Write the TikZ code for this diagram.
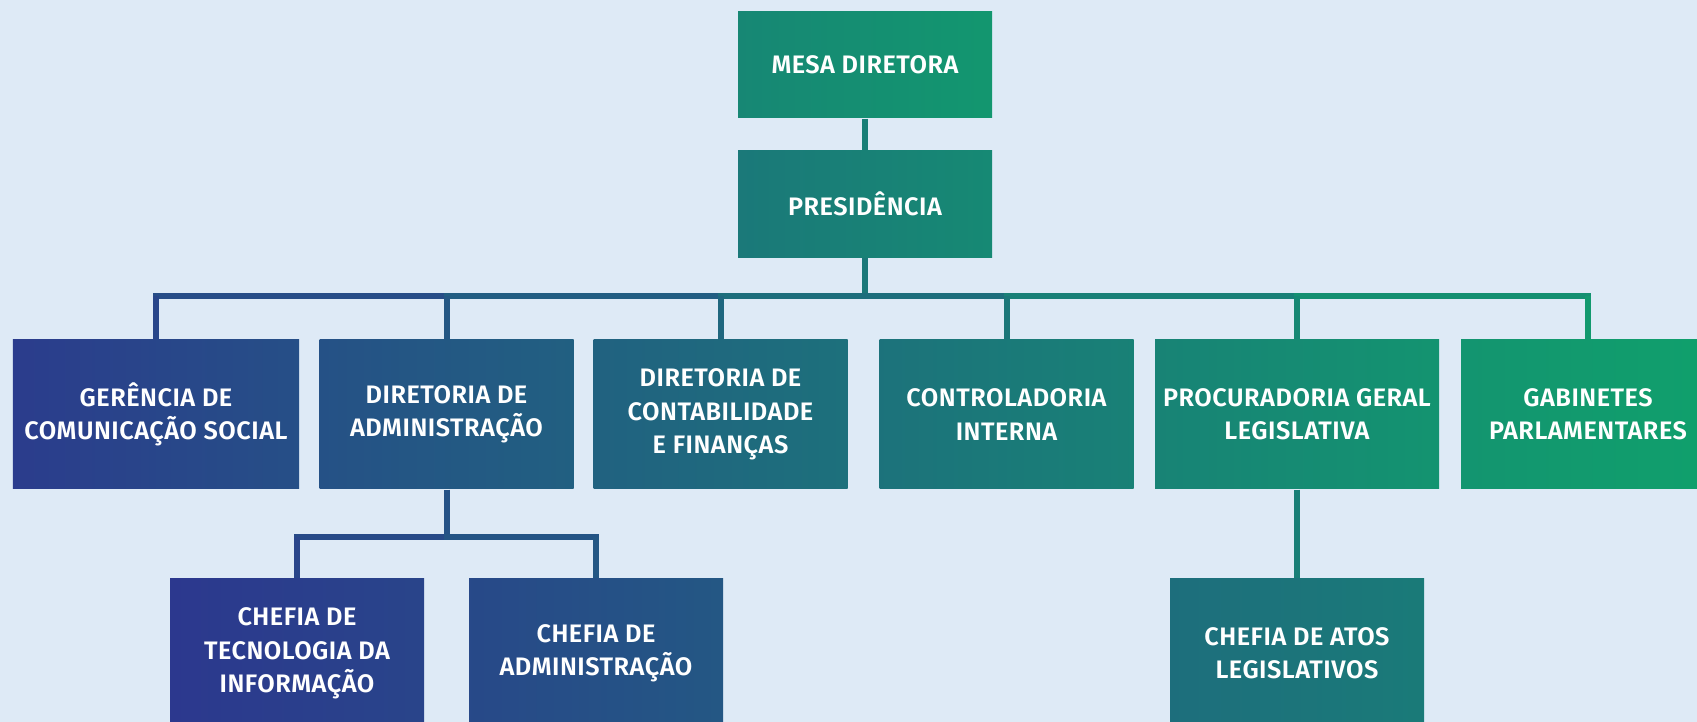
\documentclass[tikz,border=0pt]{standalone}
\usepackage{fontspec}
\setmainfont{Fira Sans}
\newfontfamily\orgfont{Fira Sans SemiBold}[LetterSpace=2]
\usetikzlibrary{positioning}
\definecolor{orgblue}{RGB}{44,56,142}
\definecolor{orggreen}{RGB}{16,160,108}
\definecolor{bgpale}{RGB}{222,234,246}

\begin{document}
\begin{tikzpicture}[
    font=\orgfont\fontsize{7.2}{9.5}\selectfont,
    node distance=0.31cm and 0.21cm,
    unit/.style 2 args={minimum width=2.54cm, minimum height=1.49cm, align=center, text=white, inner sep=1pt, left color=orggreen!#1!orgblue, right color=orggreen!#2!orgblue},
    link/.style={line width=0.06cm},
    bus/.style={line width=0.06cm, line cap=rect}
]
\clip (0,0) rectangle (16.97,7.22);
\fill[bgpale] (0,0) rectangle (16.97,7.22);

% Top
\node[unit={76}{91}, minimum height=1.06cm] (mesa) at (8.65,6.57) {MESA DIRETORA};
\node[unit={62}{78}, minimum height=1.07cm, below=of mesa] (pres) {PRESIDÊNCIA};

% Second level
\node[unit={4}{22}, minimum width=2.86cm] (gerencia) at (1.56,3.075) {GERÊNCIA DE\\COMUNICAÇÃO SOCIAL};
\node[unit={24}{38}] (diradm) at (4.465,3.075) {DIRETORIA DE\\ADMINISTRAÇÃO};
\node[unit={40}{54}] (dircont) at (7.205,3.075) {DIRETORIA DE\\CONTABILIDADE\\E FINANÇAS};
\node[unit={56}{70}] (controle) at (10.065,3.075) {CONTROLADORIA\\INTERNA};
\node[unit={72}{88}, minimum width=2.84cm] (procur) at (12.97,3.075) {PROCURADORIA GERAL\\LEGISLATIVA};
\node[unit={89}{100}] (gabinete) at (15.88,3.075) {GABINETES\\PARLAMENTARES};

% Third level
\node[unit={0}{12}] (chefti) at (2.97,0.685) {CHEFIA DE\\TECNOLOGIA DA\\INFORMAÇÃO};
\node[unit={16}{30}] (chefadm) at (5.96,0.685) {CHEFIA DE\\ADMINISTRAÇÃO};
\node[unit={52}{64}] (chefatos) at (12.97,0.685) {CHEFIA DE ATOS\\LEGISLATIVOS};

% Bus lines
\coordinate (bus) at (8.65,4.255);
\coordinate (subbus) at (4.465,1.85);

% Arrows
\draw[link, orggreen!68!orgblue] (mesa) -- (pres);
\draw[link, orggreen!62!orgblue] (pres.south) -- (pres.south |- bus);

\draw[bus, orggreen!20!orgblue] (gerencia.north |- bus) -- (diradm.north |- bus);
\draw[bus, orggreen!36!orgblue] (diradm.north |- bus) -- (dircont.north |- bus);
\draw[bus, orggreen!52!orgblue] (dircont.north |- bus) -- (controle.north |- bus);
\draw[bus, orggreen!69!orgblue] (controle.north |- bus) -- (procur.north |- bus);
\draw[bus, orggreen!85!orgblue] (procur.north |- bus) -- (gabinete.north |- bus);

\draw[link, orggreen!13!orgblue] (gerencia.north |- bus) -- (gerencia.north);
\draw[link, orggreen!30!orgblue] (diradm.north |- bus) -- (diradm.north);
\draw[link, orggreen!45!orgblue] (dircont.north |- bus) -- (dircont.north);
\draw[link, orggreen!61!orgblue] (controle.north |- bus) -- (controle.north);
\draw[link, orggreen!77!orgblue] (procur.north |- bus) -- (procur.north);
\draw[link, orggreen!93!orgblue] (gabinete.north |- bus) -- (gabinete.north);

\draw[link, orggreen!25!orgblue] (diradm.south) -- (diradm.south |- subbus);
\draw[bus, orggreen!17!orgblue] (chefti.north |- subbus) -- (diradm.south |- subbus);
\draw[bus, orggreen!27!orgblue] (diradm.south |- subbus) -- (chefadm.north |- subbus);
\draw[link, orggreen!12!orgblue] (chefti.north |- subbus) -- (chefti.north);
\draw[link, orggreen!30!orgblue] (chefadm.north |- subbus) -- (chefadm.north);

\draw[link, orggreen!68!orgblue] (procur.south) -- (chefatos.north);

\end{tikzpicture}
\end{document}
